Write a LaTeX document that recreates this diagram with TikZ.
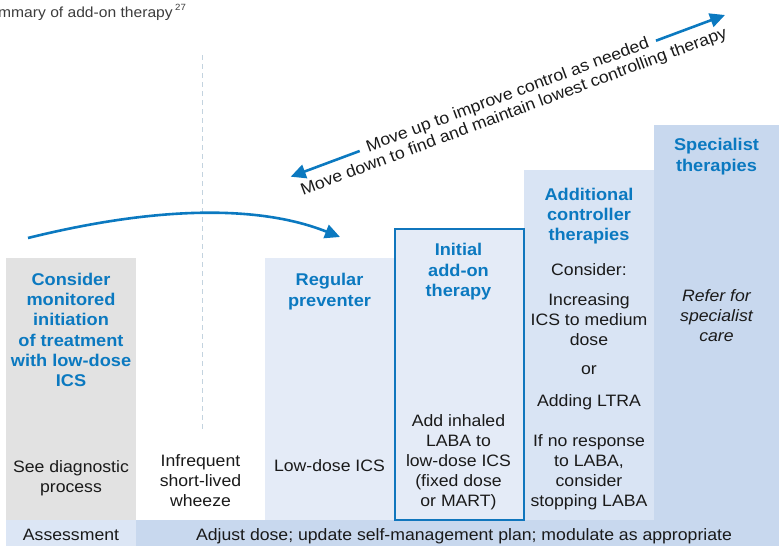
\documentclass[tikz,border=0pt]{standalone}
\usepackage{fontspec}
\setmainfont{Liberation Sans}[FakeStretch=1.07]
\usetikzlibrary{arrows.meta,calc}
\definecolor{tblue}{HTML}{0B79C0}
\definecolor{bblue}{HTML}{1076BD}
\definecolor{tdark}{HTML}{1A1A1A}
\definecolor{cgray}{HTML}{E2E2E2}
\definecolor{cpale}{HTML}{E4EBF7}
\definecolor{cmid}{HTML}{D9E4F4}
\definecolor{cdeep}{HTML}{C8D8EE}
\definecolor{cassess}{HTML}{DCE6F5}
\definecolor{dashc}{HTML}{C3D3DF}
\begin{document}
\begin{tikzpicture}[x=1pt,y=-1pt,
  colbox/.style={draw=none,inner sep=0pt,outer sep=0pt,anchor=north west},
  head/.style={font=\fontsize{17}{20.3}\selectfont\bfseries,text=tblue,align=center,inner sep=0pt},
  body/.style={font=\fontsize{16.5}{20}\selectfont,text=tdark,align=center,inner sep=0pt},
  movetxt/.style={font=\fontsize{16.5}{18}\selectfont,text=tdark,inner sep=0pt,anchor=base,rotate=20.42},
  bluearrow/.style={draw=tblue,line width=2.6pt,-{Triangle[length=15pt,width=14pt]}}
]
\useasboundingbox (0,0) rectangle (779,546);
% column boxes
\node[colbox,fill=cgray,minimum width=130pt,minimum height=262pt] (c1) at (6,258) {};
\node[colbox,fill=cpale,minimum width=129pt,minimum height=262pt] (c3) at (265,258) {};
\node[colbox,fill=cmid,minimum width=130pt,minimum height=350pt] (c5) at (524,170) {};
\node[colbox,fill=cdeep,minimum width=125pt,minimum height=395pt] (c6) at (654,125) {};
\node[colbox,fill=cassess,minimum width=130pt,minimum height=26pt] (b1) at (6,520) {};
\node[colbox,fill=cdeep,minimum width=643pt,minimum height=26pt] (b2) at (136,520) {};
\node[draw=bblue,line width=2pt,fill=cpale,inner sep=0pt,anchor=north west,minimum width=129pt,minimum height=291pt] (c4) at (394,228) {};
% dashed divider
\coordinate (d1) at (202,55);
\coordinate (d2) at (202,432);
\draw[dashc,line width=1pt,dash pattern=on 5pt off 4pt] (d1) -- (d2);
% title
\node[anchor=base west,inner sep=0pt,text=tdark!85!white,font=\fontsize{14.6}{16}\selectfont] (title) at (-2,17) {mmary of add-on therapy\,\raisebox{0.42em}{\fontsize{9}{9}\selectfont 27}};
% curved arrow
\coordinate (cs) at (28,238);
\coordinate (ce) at (340,237);
\draw[bluearrow] (cs) .. controls (153,207) and (257,204) .. (ce);
% diagonal double arrow
\coordinate (L) at (290.7,176.7);
\coordinate (Lin) at (359.7,151.0);
\coordinate (Rin) at (656.0,40.7);
\coordinate (R) at (725,15);
\draw[bluearrow] (Lin) -- (L);
\draw[bluearrow] (Rin) -- (R);
\node[movetxt] (up) at (509.4,99.7) {Move up to improve control as needed};
\node[movetxt] (down) at (515.5,116.3) {Move down to find and maintain lowest controlling therapy};
% column 1
\node[head] (h1) at (71,330) {Consider\\monitored\\initiation\\of treatment\\with low-dose\\ICS};
\node[body] (t1) at (71,478) {See diagnostic\\process};
% column 2
\node[body] (t2) at (200.5,481) {Infrequent\\short-lived\\wheeze};
% column 3
\node[head] (h3) at (329.5,291.7) {Regular\\preventer};
\node[body] (t3) at (329.5,466) {Low-dose ICS};
% column 4
\node[head] (h4) at (458.5,271.7) {Initial\\add-on\\therapy};
\node[body] (t4) at (458.5,462.7) {Add inhaled\\LABA to\\low-dose ICS\\(fixed dose\\or MART)};
% column 5
\node[head] (h5) at (589,216.2) {Additional\\controller\\therapies};
\node[body] (t5a) at (589,270) {Consider:};
\node[body] (t5b) at (589,319.5) {Increasing\\ICS to medium\\dose};
\node[body] (t5c) at (589,370) {or};
\node[body] (t5d) at (589,402.6) {Adding LTRA};
\node[body] (t5e) at (589,472.7) {If no response\\to LABA,\\consider\\stopping LABA};
% column 6
\node[head] (h6) at (716.5,156.7) {Specialist\\therapies};
\node[body,font=\fontsize{16.5}{20}\selectfont\itshape] (t6) at (716.5,315.5) {Refer for\\specialist\\care};
% bottom bar
\node[body] (a1) at (71,535) {Assessment};
\node[body] (a2) at (464,536.7) {Adjust dose; update self-management plan; modulate as appropriate};
\end{tikzpicture}
\end{document}
